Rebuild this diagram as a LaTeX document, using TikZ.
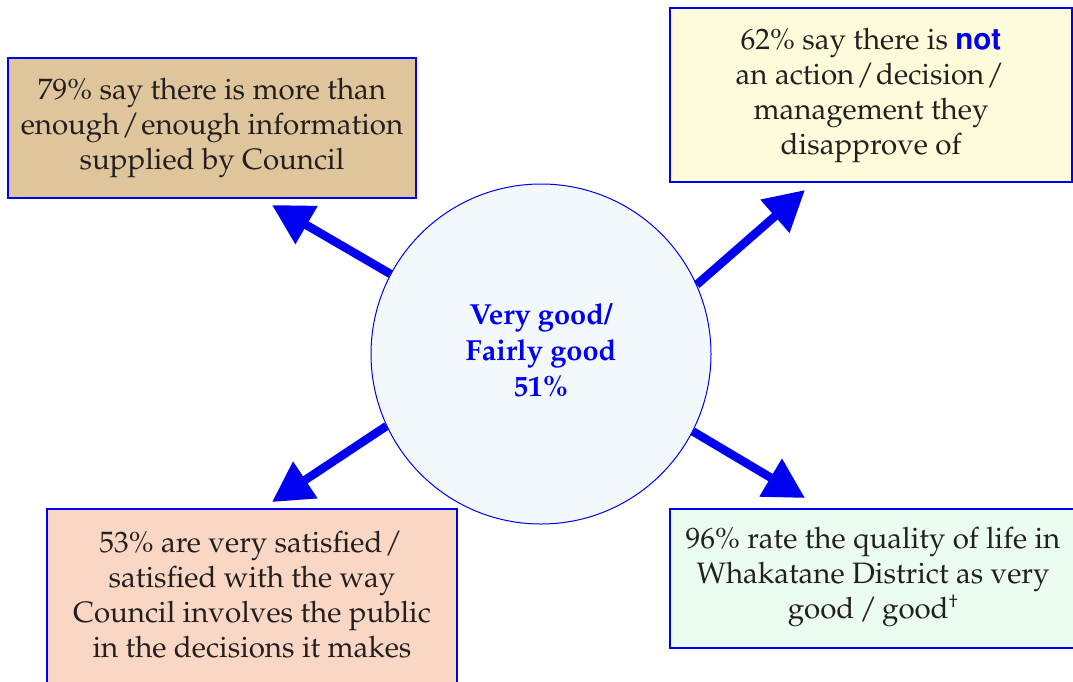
\documentclass[tikz,border=0pt]{standalone}
\usepackage[T1]{fontenc}
\usepackage{mathpazo}
\usetikzlibrary{arrows.meta}
\definecolor{bblue}{RGB}{0,0,240}
\definecolor{txt}{RGB}{35,31,32}
\definecolor{tanfill}{RGB}{223,197,155}
\definecolor{yelfill}{RGB}{254,251,218}
\definecolor{peachfill}{RGB}{250,214,196}
\definecolor{mintfill}{RGB}{234,253,240}
\definecolor{circfill}{RGB}{243,248,252}
\newcommand{\myslash}{\kern2pt/\kern2pt}
\tikzset{
  boxtext/.style={text=txt, align=center, inner sep=0pt, font=\fontsize{29.5}{35}\selectfont},
  infobox/.style={draw=bblue, line width=2.5pt, boxtext},
  bigarrow/.style={draw=bblue, line width=8.5pt, -{Triangle[length=40pt,width=42pt]}},
}
\begin{document}
\begin{tikzpicture}[x=1pt,y=-1pt]
\useasboundingbox (0,0) rectangle (1073,681);
\clip (0,0) rectangle (1073,681);
% boxes
\node[infobox, fill=tanfill, minimum width=408pt, minimum height=140pt] (tl) at (212,128)
  {79\% say there is more than\\enough\myslash enough information\\supplied by Council};
\node[infobox, fill=yelfill, minimum width=402pt, minimum height=174pt] (tr) at (871,95)
  {62\% say there is {\fontfamily{phv}\bfseries\color{bblue}not}\\an action\myslash decision\myslash\\management they\\disapprove of};
\node[infobox, fill=peachfill, minimum width=410pt, minimum height=260pt] (bl) at (252,639) {};
\node[boxtext] (bltext) at (252,595)
  {53\% are very satisfied\myslash\\satisfied with the way\\Council involves the public\\in the decisions it makes};
\node[infobox, fill=mintfill, minimum width=420pt, minimum height=139pt] (br) at (880,578.5) {};
\node[boxtext] (brtext) at (873,577)
  {96\% rate the quality of life in\\Whakatane District as very\\good\,/\,good\textsuperscript{\scalebox{0.8}{\dag}}};
% circle
\node[circle, draw=bblue, line width=1pt, fill=circfill, minimum size=340pt, inner sep=0pt] (c) at (541,354) {};
\node[text=bblue, align=center, inner sep=0pt, font=\fontsize{29}{36}\selectfont\bfseries] (ctext) at (541,350)
  {Very good/\\Fairly good\\51\%};
% arrow ends
\coordinate (e1) at (272,205);
\coordinate (e2) at (805,190);
\coordinate (e3) at (272,502);
\coordinate (e4) at (805,498);
\draw[bigarrow] (c.152) -- (e1);
\draw[bigarrow] (c.24) -- (e2);
\draw[bigarrow] (c.205) -- (e3);
\draw[bigarrow] (c.333) -- (e4);
\end{tikzpicture}
\end{document}
